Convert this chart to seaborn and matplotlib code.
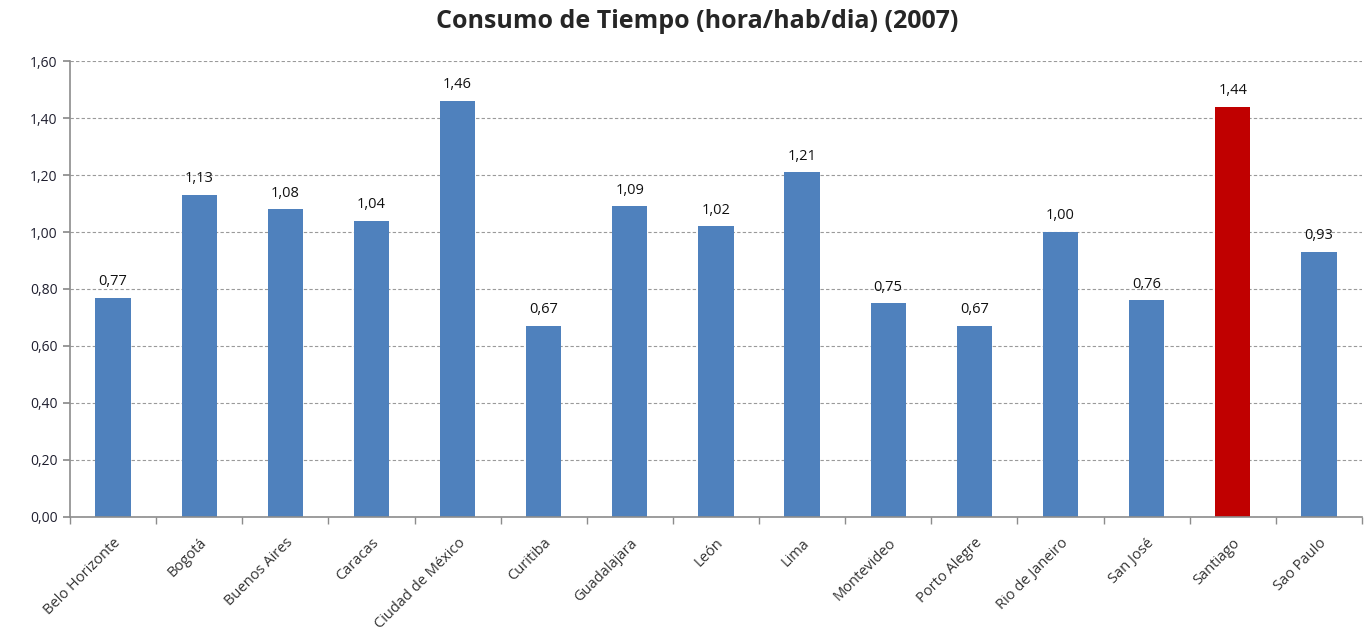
import matplotlib
matplotlib.use("Agg")
import matplotlib.pyplot as plt
import seaborn as sns
import pandas as pd
from matplotlib.ticker import FixedLocator, FuncFormatter, MultipleLocator

cities = ["Belo Horizonte", "Bogotá", "Buenos Aires", "Caracas", "Ciudad de México",
          "Curitiba", "Guadalajara", "León", "Lima", "Montevideo", "Porto Alegre",
          "Rio de Janeiro", "San José", "Santiago", "Sao Paulo"]
values = [0.77, 1.13, 1.08, 1.04, 1.46, 0.67, 1.09, 1.02, 1.21, 0.75, 0.67, 1.00, 0.76, 1.44, 0.93]
highlight = "Santiago"
title = "Consumo de Tiempo (hora/hab/dia) (2007)"

sns.set_theme(style="white")
plt.rcParams['font.family'] = ['Open Sans', 'DejaVu Sans']

df = pd.DataFrame({"city": cities, "value": values})
palette = {c: ("#C00000" if c == highlight else "#4F81BD") for c in cities}

fig = plt.figure(figsize=(13.64, 6.33), dpi=100)
ax = fig.add_axes([0.0513, 0.1833, 0.9472, 0.7203])

sns.barplot(data=df, x="city", y="value", hue="city", palette=palette,
            width=0.41, legend=False, ax=ax, saturation=1, linewidth=0)

ax.set_ylim(0, 1.6)
ax.set_xlim(-0.5, len(cities) - 0.5)
ax.yaxis.set_major_locator(MultipleLocator(0.2))
ax.yaxis.set_major_formatter(FuncFormatter(lambda v, p: f"{v:.2f}".replace(".", ",")))
ax.grid(axis="y", color="#9a9a9a", linestyle=(0, (3, 2)), linewidth=0.8)
ax.set_axisbelow(True)

for s in ["top", "right"]:
    ax.spines[s].set_visible(False)
for s in ["left", "bottom"]:
    ax.spines[s].set_color("#8c8c8c")
    ax.spines[s].set_linewidth(1.2)

ax.tick_params(axis="y", which="major", left=True, length=5, color="#8c8c8c",
               labelsize=10, labelcolor="#1f1f2f", pad=4)
ax.tick_params(axis="x", which="major", bottom=False, length=0)
ax.set_xticks(range(len(cities)))
ax.set_xticklabels(cities, rotation=45, ha="right", rotation_mode="anchor",
                   fontsize=10.5, color="#333333")
for lbl in ax.get_xticklabels():
    lbl.set_y(-0.03)
ax.xaxis.set_minor_locator(FixedLocator([i - 0.5 for i in range(len(cities) + 1)]))
ax.tick_params(axis="x", which="minor", bottom=True, length=5, color="#8c8c8c", width=1)

for i, v in enumerate(values):
    ax.text(i, v + 0.03, f"{v:.2f}".replace(".", ","), ha="center", va="bottom",
            fontsize=10.5, color="#111111")

ax.set_xlabel("")
ax.set_ylabel("")
fig.suptitle(title, fontsize=18, fontweight="bold", y=0.985, x=0.511)

fig.savefig("out.png", dpi=100)
